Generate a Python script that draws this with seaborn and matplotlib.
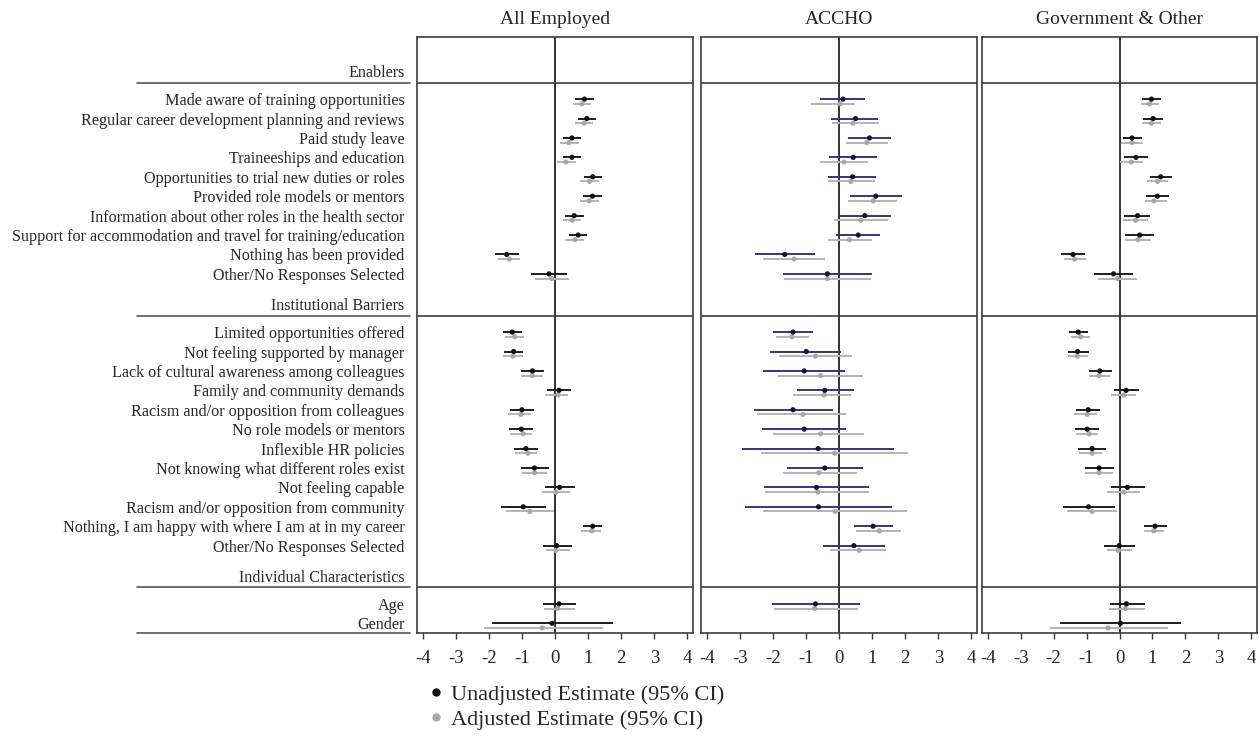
import numpy as np
import pandas as pd
import matplotlib.pyplot as plt
import seaborn as sns
import matplotlib.transforms as mtransforms
from matplotlib.lines import Line2D

nan = np.nan

# row labels
enablers = ["Made aware of training opportunities",
            "Regular career development planning and reviews",
            "Paid study leave",
            "Traineeships and education",
            "Opportunities to trial new duties or roles",
            "Provided role models or mentors",
            "Information about other roles in the health sector",
            "Support for accommodation and travel for training/education",
            "Nothing has been provided",
            "Other/No Responses Selected"]
barriers = ["Limited opportunities offered",
            "Not feeling supported by manager",
            "Lack of cultural awareness among colleagues",
            "Family and community demands",
            "Racism and/or opposition from colleagues",
            "No role models or mentors",
            "Inflexible HR policies",
            "Not knowing what different roles exist",
            "Not feeling capable",
            "Racism and/or opposition from community",
            "Nothing, I am happy with where I am at in my career",
            "Other/No Responses Selected"]
individual = ["Age", "Gender"]
sections = ["Enablers", "Institutional Barriers", "Individual Characteristics"]
panels = ["All Employed", "ACCHO", "Government & Other"]
ticks = [-4, -3, -2, -1, 0, 1, 2, 3, 4]

# All Employed
all_est = [0.89, 0.96, 0.51, 0.51, 1.14, 1.13, 0.58, 0.70, -1.46, -0.18,
           -1.29, -1.25, -0.68, 0.12, -1.00, -1.02, -0.88, -0.62, 0.14, -0.96, 1.14, 0.05,
           0.12, -0.09]
all_lo = [0.61, 0.68, 0.23, 0.23, 0.87, 0.86, 0.29, 0.41, -1.82, -0.72,
          -1.58, -1.54, -1.02, -0.24, -1.36, -1.38, -1.24, -1.03, -0.31, -1.64, 0.86, -0.35,
          -0.35, -1.89]
all_hi = [1.18, 1.24, 0.79, 0.79, 1.43, 1.42, 0.87, 0.98, -1.10, 0.36,
          -1.01, -0.97, -0.32, 0.48, -0.64, -0.66, -0.52, -0.19, 0.61, -0.26, 1.42, 0.51,
          0.64, 1.76]
all_adj = [0.81, 0.88, 0.42, 0.33, 1.04, 1.03, 0.52, 0.60, -1.38, -0.10,
           -1.22, -1.27, -0.69, 0.09, -1.03, -0.96, -0.82, -0.62, 0.03, -0.76, 1.11, 0.02,
           0.08, -0.39]
all_adj_lo = [0.53, 0.60, 0.15, 0.06, 0.76, 0.76, 0.24, 0.31, -1.71, -0.60,
              -1.51, -1.56, -1.02, -0.30, -1.42, -1.36, -1.22, -1.01, -0.40, -1.49, 0.80, -0.28,
              -0.32, -2.14]
all_adj_hi = [1.09, 1.16, 0.72, 0.62, 1.32, 1.32, 0.80, 0.88, -1.05, 0.41,
              -0.93, -0.98, -0.35, 0.38, -0.74, -0.68, -0.54, -0.23, 0.44, -0.03, 1.39, 0.46,
              0.60, 1.44]

# ACCHO
accho_est = [0.12, 0.50, 0.92, 0.43, 0.41, 1.11, 0.78, 0.58, -1.64, -0.35,
             -1.39, -0.99, -1.05, -0.43, -1.39, -1.05, -0.63, -0.43, -0.68, -0.62, 1.03, 0.45,
             -0.71, nan]
accho_lo = [-0.56, -0.25, 0.26, -0.31, -0.33, 0.33, 0.00, -0.10, -2.54, -1.70,
            -1.98, -2.07, -2.30, -1.27, -2.58, -2.32, -2.92, -1.57, -2.27, -2.84, 0.46, -0.47,
            -2.02, nan]
accho_hi = [0.80, 1.19, 1.57, 1.16, 1.13, 1.89, 1.57, 1.25, -0.74, 1.00,
            -0.80, 0.07, 0.18, 0.44, -0.19, 0.20, 1.66, 0.72, 0.92, 1.60, 1.63, 1.39,
            0.63, nan]
accho_adj = [0.04, 0.42, 0.84, 0.15, 0.36, 1.04, 0.66, 0.32, -1.36, -0.35,
             -1.42, -0.71, -0.56, -0.45, -1.09, -0.56, -0.13, -0.61, -0.64, -0.12, 1.22, 0.61,
             -0.74, nan]
accho_adj_lo = [-0.85, -0.22, 0.21, -0.58, -0.34, 0.26, -0.15, -0.34, -2.31, -1.66,
                -1.91, -1.80, -1.83, -1.38, -2.49, -1.98, -2.35, -1.68, -2.23, -2.30, 0.52, -0.28,
                -1.96, nan]
accho_adj_hi = [0.49, 1.22, 1.47, 0.89, 1.08, 1.74, 1.47, 1.00, -0.42, 0.96,
                -0.91, 0.39, 0.73, 0.37, 0.20, 0.76, 2.08, 0.54, 0.92, 2.05, 1.88, 1.41,
                0.56, nan]

# Government & Other
gov_est = [0.97, 1.02, 0.38, 0.50, 1.25, 1.15, 0.55, 0.61, -1.41, -0.18,
           -1.25, -1.27, -0.60, 0.20, -0.95, -0.98, -0.83, -0.62, 0.24, -0.94, 1.08, -0.01,
           0.21, 0.03]
gov_lo = [0.69, 0.71, 0.10, 0.15, 0.91, 0.81, 0.14, 0.17, -1.76, -0.78,
          -1.53, -1.55, -0.94, -0.18, -1.31, -1.34, -1.25, -1.06, -0.27, -1.72, 0.74, -0.47,
          -0.30, -1.81]
gov_hi = [1.26, 1.33, 0.67, 0.86, 1.58, 1.51, 0.94, 1.04, -1.05, 0.42,
          -0.96, -0.92, -0.24, 0.60, -0.58, -0.61, -0.41, -0.17, 0.76, -0.15, 1.45, 0.47,
          0.78, 1.87]
gov_adj = [0.91, 0.97, 0.38, 0.36, 1.15, 1.04, 0.49, 0.56, -1.36, -0.06,
           -1.18, -1.28, -0.62, 0.13, -0.98, -0.92, -0.83, -0.62, 0.13, -0.83, 1.04, -0.04,
           0.18, -0.35]
gov_adj_lo = [0.64, 0.69, 0.06, 0.02, 0.84, 0.77, 0.12, 0.16, -1.68, -0.66,
              -1.47, -1.56, -0.93, -0.27, -1.37, -1.32, -1.24, -1.05, -0.38, -1.58, 0.73, -0.39,
              -0.31, -2.11]
gov_adj_hi = [1.21, 1.26, 0.72, 0.72, 1.48, 1.45, 0.85, 0.97, -1.03, 0.53,
              -0.90, -0.95, -0.28, 0.51, -0.68, -0.64, -0.54, -0.20, 0.63, -0.09, 1.36, 0.38,
              0.78, 1.48]

sns.set_theme(style="white")
plt.rcParams["font.family"] = ["Liberation Serif", "DejaVu Serif"]
plt.rcParams["axes.unicode_minus"] = False

# row positions (bottom to top), headers and separator lines
groups = [enablers, barriers, individual]
ypos = []
header_y = []
line_y = []
y = 0
for grp in reversed(groups):
    for item in reversed(grp):
        ypos.insert(0, y)
        y += 1
    header_y.insert(0, y + 0.45)
    line_y.insert(0, y - 0.15)
    y += 2
ypos = np.array(ypos, dtype=float)
ytop, ybot = 30.2, -0.5

labels = enablers + barriers + individual
data = {
    "All Employed": (all_est, all_lo, all_hi, all_adj, all_adj_lo, all_adj_hi),
    "ACCHO": (accho_est, accho_lo, accho_hi, accho_adj, accho_adj_lo, accho_adj_hi),
    "Government & Other": (gov_est, gov_lo, gov_hi, gov_adj, gov_adj_lo, gov_adj_hi),
}

fig = plt.figure(figsize=(12.6, 7.46), dpi=100)
W, H = 1260, 746
boxes = [(417, 693), (701, 977), (982, 1257)]
axes = []
for (x0, x1) in boxes:
    axes.append(fig.add_axes([x0 / W, (H - 633) / H, (x1 - x0) / W, (633 - 37) / H]))

edge = "#3c3c3c"
for i, (ax, name) in enumerate(zip(axes, panels)):
    est, lo, hi, adj, adj_lo, adj_hi = data[name]
    df = pd.DataFrame({"item": labels, "y": ypos, "est": est, "lo": lo, "hi": hi,
                       "adj": adj, "adj_lo": adj_lo, "adj_hi": adj_hi})
    off = 0.24
    ci_col = "#35357f" if name == "ACCHO" else "#1e1e1e"
    pt_col = "#14143a" if name == "ACCHO" else "#111111"
    ax.hlines(df["y"] - off, df["adj_lo"], df["adj_hi"], color="#b4b4b4", lw=1.4, zorder=2)
    ax.hlines(df["y"], df["lo"], df["hi"], color=ci_col, lw=1.4, zorder=3)
    df["y_adj"] = df["y"] - off
    sns.scatterplot(data=df, x="adj", y="y_adj", ax=ax, color="#a8a8a8", s=14,
                    edgecolor="none", zorder=4, legend=False)
    sns.scatterplot(data=df, x="est", y="y", ax=ax, color=pt_col, s=14,
                    edgecolor="none", zorder=5, legend=False)
    ax.axvline(0, color="#111111", lw=1.2, zorder=1)
    for ly in line_y:
        ax.axhline(ly, color=edge, lw=1.2, zorder=1)
    ax.set_xlim(-4.17, 4.17)
    ax.set_ylim(ybot, ytop)
    ax.set_xticks(ticks)
    ax.set_xticklabels([str(t) for t in ticks])
    ax.tick_params(axis="x", direction="out", length=4, width=1, color=edge,
                   labelsize=13.5, pad=8, bottom=True)
    ax.set_xlabel("")
    ax.set_ylabel("")
    ax.set_title(name, fontsize=14, pad=9)
    for sp in ax.spines.values():
        sp.set_color(edge)
        sp.set_linewidth(1.2)
    if i == 0:
        ax.set_yticks(list(ypos) + header_y)
        ax.set_yticklabels(labels + sections, fontsize=11.6)
        ax.tick_params(axis="y", length=0, pad=9)
    else:
        ax.set_yticks([])

# separator lines in the label column
trans = mtransforms.blended_transform_factory(fig.transFigure, axes[0].transData)
for ly in line_y + [ybot]:
    axes[0].add_line(Line2D([137 / W, 410 / W], [ly, ly], transform=trans,
                            color="#555555", lw=1.2, clip_on=False))

handles = [Line2D([], [], marker="o", ls="none", color="#111111", markersize=5),
           Line2D([], [], marker="o", ls="none", color="#a8a8a8", markersize=5)]
fig.legend(handles, ["Unadjusted Estimate (95% CI)", "Adjusted Estimate (95% CI)"],
           loc="upper left", bbox_to_anchor=(407 / W, 1 - 664 / H), frameon=False,
           fontsize=16, handlelength=0.8, handletextpad=0.3, labelspacing=0.22)

fig.savefig("out.png", dpi=100)
